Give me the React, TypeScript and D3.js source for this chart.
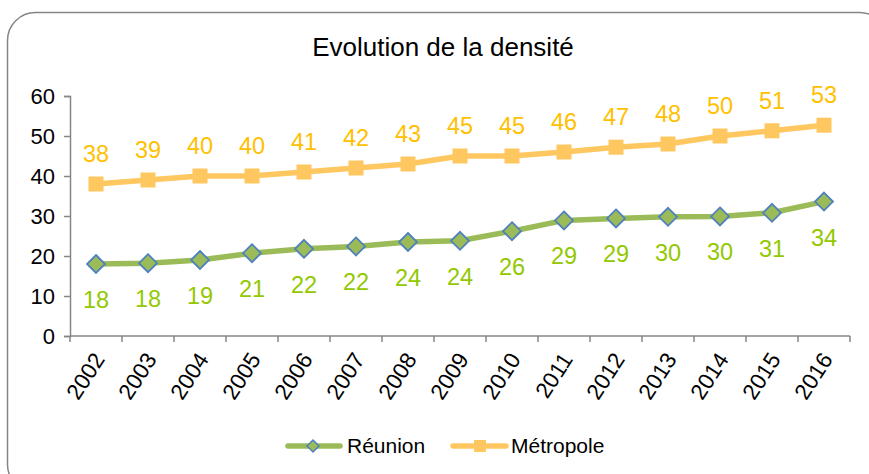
import React, { useEffect, useRef } from "react";
import * as d3 from "d3";

const years = ["2002", "2003", "2004", "2005", "2006", "2007", "2008", "2009", "2010", "2011", "2012", "2013", "2014", "2015", "2016"];
const reunion = [18.0, 18.2, 19.0, 20.7, 21.8, 22.4, 23.5, 23.8, 26.2, 28.9, 29.4, 29.8, 29.9, 30.8, 33.6];
const metropole = [38.0, 39.0, 40.0, 40.0, 41.0, 42.0, 43.0, 45.0, 45.0, 46.0, 47.2, 48.0, 50.0, 51.3, 52.7];
const yTicks = [0, 10, 20, 30, 40, 50, 60];

const W = 869, H = 474;
const FONT = "'Liberation Sans', Arial, sans-serif";

export default function App() {
  const ref = useRef<SVGSVGElement>(null);

  useEffect(() => {
    const svg = d3.select(ref.current);
    svg.selectAll("*").remove();

    // outer frame
    svg.append("rect")
      .attr("x", 7.5).attr("y", 12.5)
      .attr("width", 880).attr("height", 480)
      .attr("rx", 28).attr("ry", 28)
      .attr("fill", "white").attr("stroke", "#868686").attr("stroke-width", 1.5);

    svg.append("text")
      .attr("x", 443).attr("y", 56)
      .attr("text-anchor", "middle")
      .attr("font-family", FONT).attr("font-size", 26)
      .text("Evolution de la densité");

    const x = d3.scaleBand().domain(years).range([70, 850]);
    const y = d3.scaleLinear().domain([0, 60]).range([336, 96]);
    const cx = (d: string) => (x(d) as number) + x.bandwidth() / 2;

    // y axis
    const ya = svg.append("g").attr("transform", "translate(70,0)")
      .call(d3.axisLeft(y).tickValues(yTicks).tickSize(6).tickPadding(9));
    ya.select(".domain").attr("stroke", "#868686").attr("stroke-width", 1.5);
    ya.selectAll(".tick line").attr("stroke", "#868686").attr("stroke-width", 1.5);
    ya.selectAll("text").attr("font-family", FONT).attr("font-size", 22).attr("fill", "#000");

    // x axis
    svg.append("line").attr("x1", 70).attr("x2", 850).attr("y1", 336).attr("y2", 336)
      .attr("stroke", "#868686").attr("stroke-width", 1.5);
    const bounds = years.map((d) => x(d) as number).concat([850]);
    svg.selectAll(".xt").data(bounds).enter().append("line")
      .attr("x1", (d) => d).attr("x2", (d) => d).attr("y1", 336).attr("y2", 342)
      .attr("stroke", "#868686").attr("stroke-width", 1.5);
    svg.selectAll(".xl").data(years).enter().append("text")
      .attr("transform", (d) => `translate(${cx(d) + 3},${355}) rotate(-57)`)
      .attr("text-anchor", "end")
      .attr("dy", "0.35em")
      .attr("font-family", FONT).attr("font-size", 22.5)
      .text((d) => d);

    const line = d3.line<number>().x((_, i) => cx(years[i])).y((d) => y(d));

    // Métropole
    svg.append("path").datum(metropole).attr("d", line)
      .attr("fill", "none").attr("stroke", "#FFC760").attr("stroke-width", 5.5).attr("stroke-linejoin", "round");
    svg.selectAll(".ms").data(metropole).enter().append("rect")
      .attr("x", (_, i) => cx(years[i]) - 7.5).attr("y", (d) => y(d) - 7.5)
      .attr("width", 15).attr("height", 15).attr("fill", "#FFC760");
    svg.selectAll(".ml").data(metropole).enter().append("text")
      .attr("x", (_, i) => cx(years[i])).attr("y", (d) => y(d) - 22)
      .attr("text-anchor", "middle")
      .attr("font-family", FONT).attr("font-size", 23.5).attr("fill", "#FFC000")
      .text((d) => Math.round(d));

    // Réunion
    svg.append("path").datum(reunion).attr("d", line)
      .attr("fill", "none").attr("stroke", "#9BBB59").attr("stroke-width", 5.5).attr("stroke-linejoin", "round");
    svg.selectAll(".rs").data(reunion).enter().append("path")
      .attr("transform", (d, i) => `translate(${cx(years[i])},${y(d)})`)
      .attr("d", "M0,-9L9,0L0,9L-9,0Z")
      .attr("fill", "#9BBB59").attr("stroke", "#4F81BD").attr("stroke-width", 1.8);
    svg.selectAll(".rl").data(reunion).enter().append("text")
      .attr("x", (_, i) => cx(years[i])).attr("y", (d) => y(d) + 44)
      .attr("text-anchor", "middle")
      .attr("font-family", FONT).attr("font-size", 23.5).attr("fill", "#92C800")
      .text((d) => Math.round(d));

    // legend
    const lg = svg.append("g");
    lg.append("line").attr("x1", 288).attr("x2", 340).attr("y1", 446).attr("y2", 446)
      .attr("stroke", "#9BBB59").attr("stroke-width", 5.5).attr("stroke-linecap", "round");
    lg.append("path").attr("transform", "translate(313,446)").attr("d", "M0,-6L6,0L0,6L-6,0Z")
      .attr("fill", "#9BBB59").attr("stroke", "#4F81BD").attr("stroke-width", 1.5);
    lg.append("text").attr("x", 347).attr("y", 453).attr("font-family", FONT).attr("font-size", 21).text("Réunion");
    lg.append("line").attr("x1", 453).attr("x2", 506).attr("y1", 446).attr("y2", 446)
      .attr("stroke", "#FFC760").attr("stroke-width", 5.5).attr("stroke-linecap", "round");
    lg.append("rect").attr("x", 474).attr("y", 440).attr("width", 12).attr("height", 12).attr("fill", "#FFC760");
    lg.append("text").attr("x", 511).attr("y", 453).attr("font-family", FONT).attr("font-size", 21).text("Métropole");
  }, []);

  return (
    <svg ref={ref} width={W} height={H}
      style={{ position: "absolute", left: 0, top: 0, background: "white" }} />
  );
}
